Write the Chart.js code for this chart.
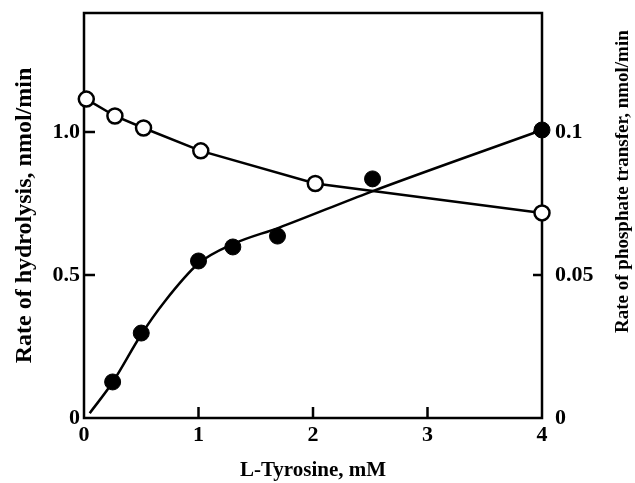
<!DOCTYPE html>
<html>
<head>
<meta charset="utf-8">
<script src="https://cdn.jsdelivr.net/npm/chart.js@4.4.1/dist/chart.umd.min.js"></script>
<style>
  html, body { margin: 0; padding: 0; background: #fff; }
  #wrap { width: 635px; height: 483px; }
</style>
</head>
<body>
<div id="wrap"><canvas id="chart" width="635" height="483"></canvas></div>
<script>
// open circles: rate of hydrolysis (left axis)
const tyrosineOpen = [0.02, 0.27, 0.52, 1.02, 2.02, 4];
const hydrolysis = [1.115, 1.056, 1.014, 0.934, 0.82, 0.717];

// filled circles: rate of phosphate transfer (right axis)
const tyrosineFilled = [0.25, 0.5, 1.0, 1.3, 1.69, 2.52, 4];
const transfer = [0.0126, 0.0297, 0.0549, 0.0598, 0.0636, 0.0836, 0.1007];

// hand-drawn curve through the filled circles
const fitX = [0.05, 0.25, 0.5, 0.7, 1.0, 1.3, 1.7, 2.5, 4];
const fitY = [0.0017, 0.0125, 0.0292, 0.0405, 0.054, 0.0608, 0.0665, 0.079, 0.1007];

const xTicks = [0, 1, 2, 3, 4];
const leftTicks = [0, 0.5, 1.0];
const rightTicks = [0, 0.05, 0.1];
const leftMax = 1.416;
const rightMax = 0.1416;

const FONT = '"Liberation Serif", "DejaVu Serif", serif';

const zip = (xs, ys) => xs.map((x, i) => ({ x: x, y: ys[i] }));

const framePlugin = {
    id: 'frame',
    beforeDatasetsDraw(chart) {
        const { ctx, chartArea: a, scales } = chart;
        ctx.save();
        ctx.strokeStyle = '#000';
        ctx.lineWidth = 2.5;
        ctx.strokeRect(a.left, a.top, a.right - a.left, a.bottom - a.top);

        // tick marks point into the plot
        ctx.beginPath();
        scales.x.ticks.forEach(t => {
            if (t.value <= 0 || t.value >= 4) return;
            const px = scales.x.getPixelForValue(t.value);
            ctx.moveTo(px, a.bottom);
            ctx.lineTo(px, a.bottom - 11);
        });
        scales.y.ticks.forEach(t => {
            if (t.value <= 0) return;
            const py = scales.y.getPixelForValue(t.value);
            ctx.moveTo(a.left, py);
            ctx.lineTo(a.left + 11, py);
        });
        scales.y2.ticks.forEach(t => {
            if (t.value <= 0) return;
            const py = scales.y2.getPixelForValue(t.value);
            ctx.moveTo(a.right, py);
            ctx.lineTo(a.right - 9, py);
        });
        ctx.stroke();
        ctx.restore();
    },
    afterDraw(chart) {
        // right title reads bottom to top, as in the figure
        const ctx = chart.ctx;
        ctx.save();
        ctx.translate(623, 333);
        ctx.rotate(-Math.PI / 2);
        ctx.font = 'bold 19px ' + FONT;
        ctx.fillStyle = '#000';
        ctx.textAlign = 'left';
        ctx.textBaseline = 'middle';
        ctx.fillText('Rate of phosphate transfer, nmol/min', 0, 0);
        ctx.restore();
    }
};

function fixVertical(width) {
    return s => {
        s.width = width;
        s.paddingTop = 0;
        s.paddingBottom = 0;
    };
}

new Chart(document.getElementById('chart'), {
    type: 'scatter',
    data: {
        datasets: [
            {
                label: 'Hydrolysis',
                data: zip(tyrosineOpen, hydrolysis),
                yAxisID: 'y',
                showLine: true,
                borderColor: '#000',
                borderWidth: 2.5,
                backgroundColor: '#fff',
                pointRadius: 7.5,
                pointBorderWidth: 2.5,
                pointBackgroundColor: '#fff',
                pointBorderColor: '#000',
                tension: 0,
                clip: false
            },
            {
                label: 'Transfer',
                data: zip(tyrosineFilled, transfer),
                yAxisID: 'y2',
                showLine: false,
                pointRadius: 8,
                pointBorderWidth: 1,
                pointBackgroundColor: '#000',
                pointBorderColor: '#000',
                clip: false
            },
            {
                label: 'Fit',
                data: zip(fitX, fitY),
                yAxisID: 'y2',
                showLine: true,
                borderColor: '#000',
                borderWidth: 2.5,
                pointRadius: 0,
                cubicInterpolationMode: 'monotone',
                clip: false
            }
        ]
    },
    options: {
        responsive: false,
        animation: false,
        devicePixelRatio: 1,
        layout: { padding: { top: 13, left: 0, right: 0, bottom: 0 } },
        plugins: { legend: { display: false }, tooltip: { enabled: false } },
        scales: {
            x: {
                type: 'linear',
                min: 0,
                max: 4,
                afterBuildTicks: s => { s.ticks = xTicks.map(v => ({ value: v })); },
                afterFit: s => {
                    s.height = 65;
                    s.paddingLeft = 0;
                    s.paddingRight = 0;
                },
                grid: { display: false, drawTicks: false },
                border: { display: false },
                ticks: {
                    padding: 4,
                    color: '#000',
                    font: { family: FONT, size: 22, weight: 'bold' },
                    callback: v => String(v)
                },
                title: {
                    display: true,
                    text: 'L-Tyrosine, mM',
                    color: '#000',
                    padding: 0,
                    font: { family: FONT, size: 21, weight: 'bold' }
                }
            },
            y: {
                type: 'linear',
                position: 'left',
                min: 0,
                max: leftMax,
                afterBuildTicks: s => { s.ticks = leftTicks.map(v => ({ value: v })); },
                afterFit: fixVertical(84),
                grid: { display: false, drawTicks: false },
                border: { display: false },
                ticks: {
                    padding: 4,
                    color: '#000',
                    font: { family: FONT, size: 22, weight: 'bold' },
                    callback: v => (v === 0 ? '0' : v.toFixed(1))
                },
                title: {
                    display: true,
                    text: 'Rate of hydrolysis, nmol/min',
                    color: '#000',
                    padding: 10,
                    font: { family: FONT, size: 24, weight: 'bold' }
                }
            },
            y2: {
                type: 'linear',
                position: 'right',
                min: 0,
                max: rightMax,
                afterBuildTicks: s => { s.ticks = rightTicks.map(v => ({ value: v })); },
                afterFit: fixVertical(93),
                grid: { display: false, drawTicks: false },
                border: { display: false },
                ticks: {
                    padding: 13,
                    color: '#000',
                    font: { family: FONT, size: 22, weight: 'bold' },
                    callback: v => String(v)
                }
            }
        }
    },
    plugins: [framePlugin]
});
</script>
</body>
</html>
